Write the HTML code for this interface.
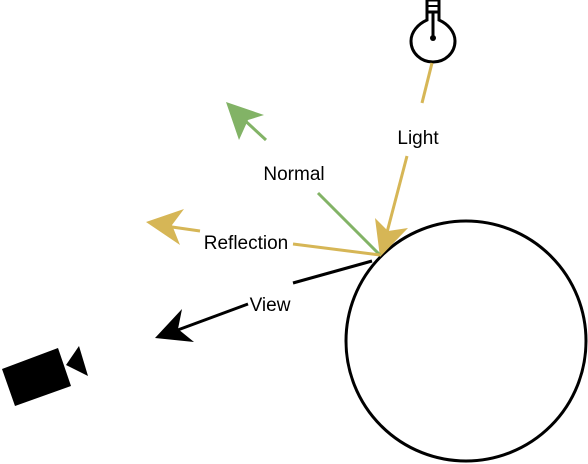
<!DOCTYPE html>
<html><head><meta charset="utf-8"><style>html,body{margin:0;padding:0;background:#fff}svg{display:block}text{font-family:"Liberation Sans",sans-serif;font-size:19px;fill:#000}</style></head>
<body>
<svg width="588" height="464" viewBox="0 0 588 464">
  <circle cx="466" cy="341" r="120" fill="#fff" stroke="#000" stroke-width="3"/>
  <g>
    <path d="M427,12 L427,20 C418,24 411,32 411,41 C411,53 421,62 433,62 C445,62 455,53 455,41 C455,32 448,24 439,20 L439,12 Z" fill="#fff" stroke="#000" stroke-width="3"/>
    <rect x="427" y="0" width="12" height="12" fill="#fff" stroke="#000" stroke-width="3"/>
    <line x1="427" y1="6" x2="439" y2="6" stroke="#000" stroke-width="2"/>
    <line x1="433" y1="12" x2="433" y2="38" stroke="#000" stroke-width="3"/>
    <circle cx="433" cy="38" r="3" fill="#000"/>
  </g>
  <g stroke="#d6b656" stroke-width="3" fill="#d6b656">
    <line x1="432" y1="63" x2="422" y2="103"/>
    <line x1="407" y1="156" x2="385" y2="240"/>
    <polygon points="380,257 375,218 388,231 408,228" stroke="none"/>
  </g>
  <text x="418" y="144" text-anchor="middle">Light</text>
  <g stroke="#82b366" stroke-width="3" fill="#82b366">
    <line x1="380" y1="255" x2="318" y2="193"/>
    <line x1="266" y1="140" x2="240" y2="116"/>
    <polygon points="226,102 264,115 248,120 239,140" stroke="none"/>
  </g>
  <text x="294" y="180" text-anchor="middle">Normal</text>
  <g stroke="#d6b656" stroke-width="3" fill="#d6b656">
    <line x1="380" y1="255" x2="293" y2="244"/>
    <line x1="200" y1="231" x2="165" y2="226"/>
    <polygon points="146,222 184,209 172,225 180,245" stroke="none"/>
  </g>
  <text x="246" y="249" text-anchor="middle">Reflection</text>
  <g stroke="#000" stroke-width="3" fill="#000">
    <line x1="372" y1="261" x2="293" y2="283"/>
    <line x1="248" y1="304" x2="175" y2="331"/>
    <polygon points="155,338 182,309 178,329 194,342" stroke="none"/>
  </g>
  <text x="270" y="311" text-anchor="middle">View</text>
  <g fill="#000">
    <polygon points="2,369 58,348 71,386 15,406"/>
    <polygon points="66,365 79,346 88,376"/>
  </g>
</svg>
</body></html>
